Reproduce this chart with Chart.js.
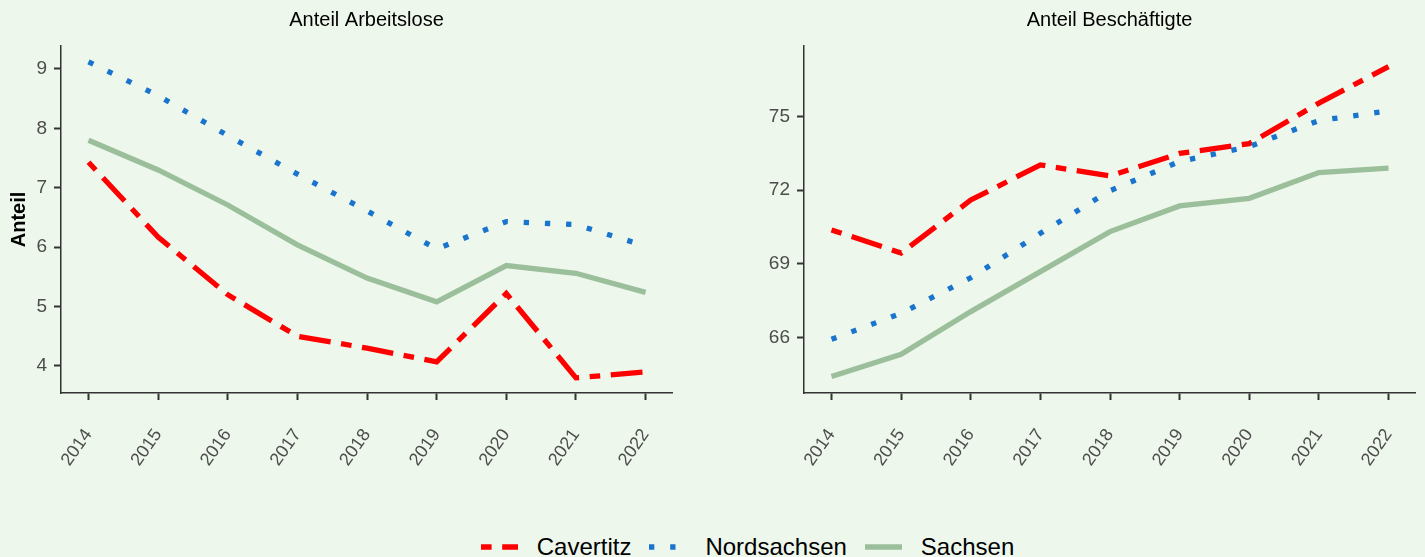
<!DOCTYPE html>
<html>
<head>
<meta charset="utf-8">
<script src="https://cdn.jsdelivr.net/npm/chart.js@4/dist/chart.umd.min.js"></script>
<style>
  html, body { margin: 0; padding: 0; background: #eef7eb; }
  body { width: 1425px; height: 557px; position: relative; overflow: hidden; font-family: "Liberation Sans", Arial, sans-serif; }
  #left { position: absolute; left: 0; top: 0; }
  #right { position: absolute; left: 700px; top: 0; }
  #legend { position: absolute; left: 88px; width: 1337px; top: 530px; height: 34px; display: flex; justify-content: center; align-items: center; }
  .item { display: flex; align-items: center; margin-right: 18px; font-size: 24px; color: #000; }
  .item svg { margin-right: 19px; }
</style>
</head>
<body>
<canvas id="left" width="700" height="480"></canvas>
<canvas id="right" width="725" height="480"></canvas>
<div id="legend"></div>
<script>
// Jahre
const jahre = [2014, 2015, 2016, 2017, 2018, 2019, 2020, 2021, 2022];

// Anteil Arbeitslose
const alCavertitz   = [7.43, 6.17, 5.20, 4.50, 4.30, 4.07, 5.22, 3.80, 3.90];
const alNordsachsen = [9.12, 8.55, 7.88, 7.23, 6.61, 5.97, 6.43, 6.38, 6.02];
const alSachsen     = [7.80, 7.30, 6.71, 6.04, 5.48, 5.08, 5.69, 5.56, 5.24];

// Anteil Beschäftigte
const beCavertitz   = [70.38, 69.44, 71.60, 73.03, 72.58, 73.50, 73.90, 75.55, 77.04];
const beNordsachsen = [65.92, 66.98, 68.43, 70.24, 71.98, 73.17, 73.78, 74.84, 75.23];
const beSachsen     = [64.40, 65.31, 67.05, 68.68, 70.31, 71.36, 71.67, 72.72, 72.90];

// Achsenbeschriftung
const ticksArbeitslose = [4, 5, 6, 7, 8, 9];
const ticksBeschaeftigte = [66, 69, 72, 75];

const regionen = ['Cavertitz', 'Nordsachsen', 'Sachsen'];
const farben = ['#ff0000', '#1874cd', '#9bbf9b'];
const lw = 5.3;
const striche = [[lw*2, lw*2, lw*6, lw*2], [lw, lw*3], []];

const punkte = function(werte){
  return jahre.map(function(j, i){ return {x: j, y: werte[i]}; });
};

const datensaetze = function(reihen){
  return reihen.map(function(werte, i){
    return {
      label: regionen[i],
      data: punkte(werte),
      borderColor: farben[i],
      backgroundColor: farben[i],
      borderWidth: lw,
      borderDash: striche[i],
      pointRadius: 0,
      tension: 0,
      order: 3 - i
    };
  });
};

const achse = {
  display: true,
  color: '#333333',
  drawOnChartArea: false,
  drawTicks: true,
  tickLength: 7,
  tickWidth: 2,
  tickColor: '#333333'
};

const erstelleChart = function(id, titel, reihen, yTicks, yMin, yMax, yBreite, rechts, yTitel){
  return new Chart(document.getElementById(id), {
    type: 'line',
    data: { datasets: datensaetze(reihen) },
    options: {
      responsive: false,
      animation: false,
      events: [],
      layout: { padding: { left: 0, right: rechts, top: 0, bottom: 0 } },
      plugins: {
        legend: { display: false },
        tooltip: { enabled: false },
        title: {
          display: true,
          text: titel,
          fullSize: false,
          color: '#000000',
          font: { family: '"Liberation Sans", Arial, sans-serif', size: 20, weight: 'normal' },
          padding: { top: 8, bottom: 14 }
        }
      },
      scales: {
        x: {
          type: 'linear',
          min: 2013.605,
          max: 2022.38,
          grid: achse,
          border: { display: true, color: '#333333', width: 1.5 },
          afterBuildTicks: function(scale){ scale.ticks = jahre.map(function(v){ return {value: v}; }); },
          afterFit: function(scale){
            scale.height = 480 - 393;
            scale.paddingLeft = 0;
            scale.paddingRight = 0;
          },
          ticks: {
            autoSkip: false,
            minRotation: 55,
            maxRotation: 55,
            padding: 25,
            color: '#4d4d4d',
            font: { family: '"Liberation Sans", Arial, sans-serif', size: 18 },
            callback: function(v){ return String(v); }
          }
        },
        y: {
          min: yMin,
          max: yMax,
          grid: achse,
          border: { display: true, color: '#333333', width: 1.5 },
          afterBuildTicks: function(scale){ scale.ticks = yTicks.map(function(v){ return {value: v}; }); },
          afterFit: function(scale){ scale.width = yBreite; },
          title: {
            display: yTitel !== '',
            text: yTitel,
            color: '#000000',
            font: { family: '"Liberation Sans", Arial, sans-serif', size: 20, weight: 'bold' },
            padding: { top: 7, bottom: 0 }
          },
          ticks: {
            padding: 7,
            color: '#4d4d4d',
            font: { family: '"Liberation Sans", Arial, sans-serif', size: 19 },
            callback: function(v){ return String(v); }
          }
        }
      }
    }
  });
};

erstelleChart('left', 'Anteil Arbeitslose', [alCavertitz, alNordsachsen, alSachsen],
  ticksArbeitslose, 3.545, 9.387, 61, 28, 'Anteil');
erstelleChart('right', 'Anteil Beschäftigte', [beCavertitz, beNordsachsen, beSachsen],
  ticksBeschaeftigte, 63.73, 77.88, 104, 10, '');

// Legende
let template = '';
regionen.forEach(function(name, i){
  template += `
    <div class="item">
      <svg width="37" height="10"><line x1="0" y1="5" x2="37" y2="5" stroke="${farben[i]}" stroke-width="${lw}" stroke-dasharray="${striche[i].join(' ')}"/></svg>
      <span>${name}</span>
    </div>`;
});
document.getElementById('legend').innerHTML = template;
</script>
</body>
</html>
